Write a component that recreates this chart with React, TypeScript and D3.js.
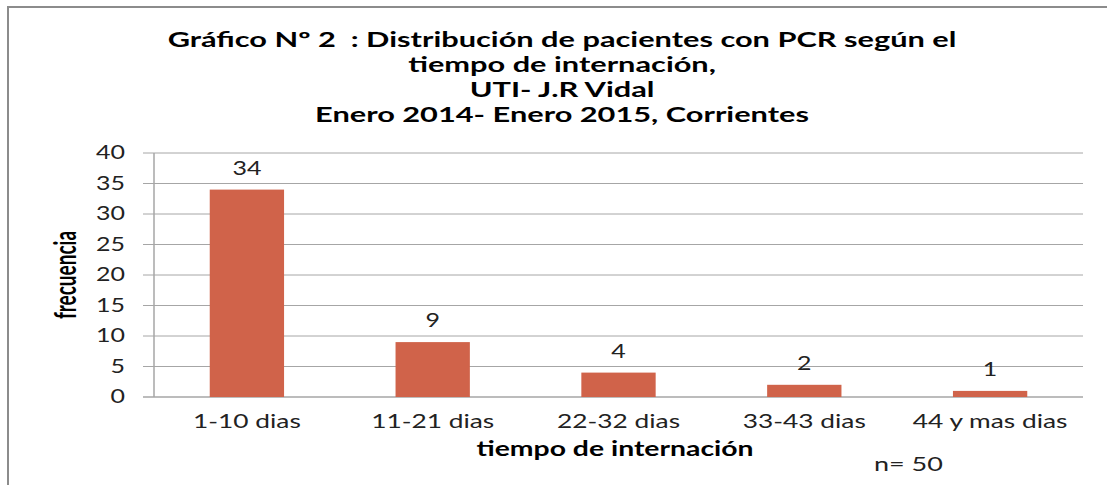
import React from "react";
import * as d3 from "d3";

const categories = ["1-10 dias", "11-21 dias", "22-32 dias", "33-43 dias", "44 y mas dias"];
const frecuencia = [34, 9, 4, 2, 1];
const yTicks = [0, 5, 10, 15, 20, 25, 30, 35, 40];
const titleLines = [
  "Gráfico Nº 2  : Distribución de pacientes con PCR según el",
  "tiempo de internación,",
  "UTI- J.R Vidal",
  "Enero 2014- Enero 2015, Corrientes",
];

const W = 1107;
const H = 485;
const margin = { top: 153, right: 24, bottom: 88, left: 154 };
const SX = 1.35; // horizontal stretch of the original picture
const TITLE_SX = 1.5;
const font = "Lato, 'Open Sans', sans-serif";
const barColor = "#d0634a";
const gridColor = "#a6a6a6";

const App = () => {
  const x = d3
    .scaleBand()
    .domain(categories)
    .range([margin.left, W - margin.right]);
  const y = d3
    .scaleLinear()
    .domain([0, 40])
    .range([H - margin.bottom, margin.top]);

  const barW = x.bandwidth() * 0.4;
  const stretch = (tx, ty, s = SX) => `translate(${tx},${ty}) scale(${s},1)`;

  return (
    <svg
      width={W}
      height={H}
      style={{ position: "absolute", left: 0, top: 0, background: "#fff" }}
      fontFamily={font}
    >
      {/* frame */}
      <rect x={8} y={7} width={W + 20} height={H + 20} fill="#fff" stroke="#8c8c8c" strokeWidth={2} />

      {/* title */}
      <g fontWeight="bold" fontSize={20.5} textAnchor="middle" fill="#000">
        {titleLines.map((t, i) => (
          <text key={i} xmlSpace="preserve" style={{ whiteSpace: "pre" }} transform={stretch(562, 47 + i * 25, TITLE_SX)}>
            {t}
          </text>
        ))}
      </g>

      {/* gridlines + y ticks */}
      <g>
        {yTicks.map((t) => (
          <g key={t}>
            <line
              x1={margin.left - 11}
              x2={W - margin.right}
              y1={y(t)}
              y2={y(t)}
              stroke={gridColor}
              strokeWidth={t === 0 ? 1.5 : 1}
            />
            <text
              transform={stretch(125, y(t) + 6)}
              textAnchor="end"
              fontSize={18.5}
              fill="#222"
            >
              {t}
            </text>
          </g>
        ))}
        <line x1={margin.left} x2={margin.left} y1={y(40)} y2={y(0)} stroke={gridColor} strokeWidth={1.5} />
      </g>

      {/* bars */}
      <g fill={barColor}>
        {categories.map((c, i) => (
          <rect
            key={c}
            x={x(c) + x.bandwidth() / 2 - barW / 2}
            y={y(frecuencia[i])}
            width={barW}
            height={y(0) - y(frecuencia[i])}
          />
        ))}
      </g>

      {/* value labels */}
      <g fontSize={18.5} textAnchor="middle" fill="#222">
        {categories.map((c, i) => (
          <text key={c} transform={stretch(x(c) + x.bandwidth() / 2, y(frecuencia[i]) - 15)}>
            {frecuencia[i]}
          </text>
        ))}
      </g>

      {/* category labels */}
      <g fontSize={19.5} textAnchor="middle" fill="#222">
        {categories.map((c) => (
          <text key={c} transform={stretch(x(c) + x.bandwidth() / 2, 428)}>
            {c}
          </text>
        ))}
      </g>

      {/* axis titles */}
      <text
        transform={stretch(615, 456)}
        textAnchor="middle"
        fontWeight="bold"
        fontSize={21}
      >
        tiempo de internación
      </text>
      <text
        transform={`translate(76,275) rotate(-90) scale(1,1.6)`}
        textAnchor="middle"
        fontWeight="bold"
        fontSize={19}
      >
        frecuencia
      </text>

      <text transform={stretch(874, 471)} fontSize={20} fill="#222">
        n= 50
      </text>
    </svg>
  );
};

export default App;
